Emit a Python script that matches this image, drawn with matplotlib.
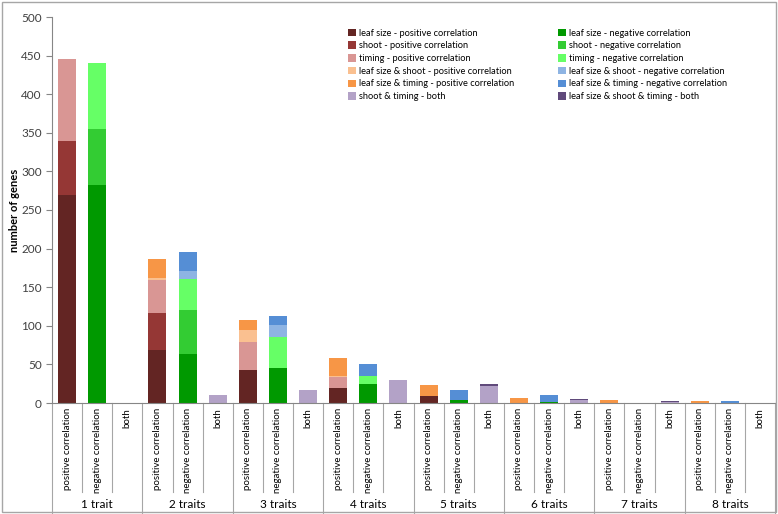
import matplotlib
matplotlib.use("Agg")
import matplotlib.pyplot as plt
from matplotlib.patches import Rectangle

plt.rcParams['font.family'] = ['Lato', 'DejaVu Sans']

groups = ['1 trait', '2 traits', '3 traits', '4 traits',
          '5 traits', '6 traits', '7 traits', '8 traits']
subcats = ['positive correlation', 'negative correlation', 'both']

# one value per category: (group, subcat) in order
leaf_pos = [269, 0, 0, 69, 0, 0, 43, 0, 0, 20, 0, 0, 9, 0, 0, 0, 0, 0, 0, 0, 0, 0, 0, 0]
shoot_pos = [71, 0, 0, 47, 0, 0, 0, 0, 0, 0, 0, 0, 0, 0, 0, 0, 0, 0, 0, 0, 0, 0, 0, 0]
timing_pos = [105, 0, 0, 43, 0, 0, 36, 0, 0, 14, 0, 0, 0, 0, 0, 0, 0, 0, 0, 0, 0, 0, 0, 0]
leaf_shoot_pos = [0, 0, 0, 3, 0, 0, 16, 0, 0, 1, 0, 0, 0, 0, 0, 0, 0, 0, 0, 0, 0, 0, 0, 0]
leaf_timing_pos = [0, 0, 0, 25, 0, 0, 12, 0, 0, 23, 0, 0, 14, 0, 0, 7, 0, 0, 4, 0, 0, 2, 0, 0]
shoot_timing_both = [0, 0, 0, 0, 0, 10, 0, 0, 17, 0, 0, 30, 0, 0, 22, 0, 0, 4, 0, 0, 1, 0, 0, 0]
leaf_neg = [0, 283, 0, 0, 64, 0, 0, 45, 0, 0, 25, 0, 0, 4, 0, 0, 1, 0, 0, 0, 0, 0, 0, 0]
shoot_neg = [0, 72, 0, 0, 57, 0, 0, 0, 0, 0, 0, 0, 0, 0, 0, 0, 0, 0, 0, 0, 0, 0, 0, 0]
timing_neg = [0, 85, 0, 0, 40, 0, 0, 41, 0, 0, 10, 0, 0, 0, 0, 0, 0, 0, 0, 0, 0, 0, 0, 0]
leaf_shoot_neg = [0, 0, 0, 0, 10, 0, 0, 15, 0, 0, 0, 0, 0, 0, 0, 0, 0, 0, 0, 0, 0, 0, 0, 0]
leaf_timing_neg = [0, 0, 0, 0, 24, 0, 0, 12, 0, 0, 16, 0, 0, 13, 0, 0, 10, 0, 0, 0, 0, 0, 2, 0]
all_both = [0, 0, 0, 0, 0, 0, 0, 0, 0, 0, 0, 0, 0, 0, 2, 0, 0, 1, 0, 0, 1, 0, 0, 0]

series = [
    ('leaf size - positive correlation', leaf_pos, '#632523'),
    ('shoot - positive correlation', shoot_pos, '#953735'),
    ('timing - positive correlation', timing_pos, '#D99694'),
    ('leaf size & shoot - positive correlation', leaf_shoot_pos, '#FAC090'),
    ('leaf size & timing - positive correlation', leaf_timing_pos, '#F79646'),
    ('shoot & timing - both', shoot_timing_both, '#B3A2C7'),
    ('leaf size - negative correlation', leaf_neg, '#009900'),
    ('shoot - negative correlation', shoot_neg, '#33CC33'),
    ('timing - negative correlation', timing_neg, '#66FF66'),
    ('leaf size & shoot - negative correlation', leaf_shoot_neg, '#8EB4E3'),
    ('leaf size & timing - negative correlation', leaf_timing_neg, '#558ED5'),
    ('leaf size & shoot & timing - both', all_both, '#604A7B'),
]

fig = plt.figure(figsize=(7.78, 5.14), dpi=100)
ax = fig.add_axes([52 / 778, 111 / 514, 723 / 778, 386 / 514])

n = len(groups) * len(subcats)
x = list(range(n))
bottom = [0] * n
handles = []
for label, vals, col in series:
    b = ax.bar(x, vals, 0.6, bottom=bottom, color=col, linewidth=0, label=label)
    handles.append(b)
    bottom = [a + v for a, v in zip(bottom, vals)]

ax.set_xlim(-0.5, n - 0.5)
ax.set_ylim(0, 500)
ax.set_yticks(range(0, 501, 50))
ax.tick_params(axis='y', labelsize=8.5, colors='#404040', length=4, color='#868686')
ax.set_xticks([])
for s in ['top', 'right']:
    ax.spines[s].set_visible(False)
for s in ['left', 'bottom']:
    ax.spines[s].set_color('#868686')
ax.set_ylabel('number of genes', fontsize=8, fontweight='bold', labelpad=1)

# multi-level category axis
tr = ax.get_xaxis_transform()
sep = '#A6A6A6'
for i in range(n + 1):
    if i % 3 == 0:
        ax.plot([i - 0.5, i - 0.5], [0, -0.285], transform=tr, color=sep, lw=0.8, clip_on=False)
    else:
        ax.plot([i - 0.5, i - 0.5], [0, -0.231], transform=tr, color=sep, lw=0.8, clip_on=False)
for i in range(n):
    ax.text(i, -0.013, subcats[i % 3], transform=tr, rotation=90, ha='center', va='top',
            fontsize=7, color='black')
for g, name in enumerate(groups):
    ax.text(3 * g + 1, -0.264, name, transform=tr, ha='center', va='center', fontsize=8.5)

ax.legend(handles=handles, ncol=2, loc='upper left', bbox_to_anchor=(0.403, 0.982),
          frameon=False, fontsize=6.7, handlelength=0.85, handleheight=0.85,
          handletextpad=0.35, columnspacing=4.7, labelspacing=0.4, borderpad=0)

fig.patches.append(Rectangle((0.002, 0.003), 0.995, 0.993, transform=fig.transFigure,
                             fill=False, edgecolor='#A6A6A6', lw=1))

fig.savefig('out.png', dpi=100)
